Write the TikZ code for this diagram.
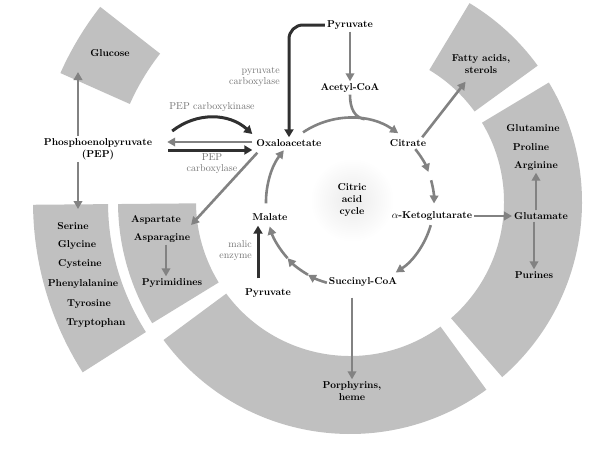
\documentclass[tikz,border=0pt]{standalone}
\usepackage{tikz}
\usetikzlibrary{arrows.meta}
\definecolor{CycBand}{RGB}{192,192,192}
\definecolor{CycArrow}{RGB}{130,130,130}
\definecolor{CycDark}{RGB}{48,48,48}
\definecolor{CycEnz}{RGB}{115,115,115}

\begin{document}
\begin{tikzpicture}[x=1pt,y=-1pt,
  met/.style={font=\fontsize{10}{12}\selectfont\bfseries,align=center,inner sep=2pt},
  enz/.style={font=\fontsize{10}{11}\selectfont,text=CycEnz,align=#1,inner sep=0pt},
  gar/.style={draw=CycArrow,line width=2.6pt,-{Triangle[length=8pt,width=8.5pt]}},
  dar/.style={draw=CycDark,line width=3pt,-{Triangle[length=8pt,width=9pt]}}]
\useasboundingbox (0,0) rectangle (591,448);
\coordinate (cc) at (350,202);
% gray bands round the cycle
\foreach \a/\b/\r/\R in %
{204/218/241/317,301/324/154/232,-31/49/154/232,54/143.5/154/232,148.5/179.5/154/232,147.5/179.5/242/317} {
   \fill[CycBand] ([shift={(\a:\r)}]cc) arc[start angle=\a,end angle=\b,radius=\r]
      -- ([shift={(\b:\R)}]cc) arc[start angle=\b,end angle=\a,radius=\R] -- cycle;
}
\shade[inner color=gray!16,outer color=white] (352,200) circle[radius=42];
\node[met] (tca) at (352,200) {Citric\\acid\\cycle};
\node[met] (pyr) at (350,25) {Pyruvate};
\node[met] (acoa) at (350,88) {Acetyl-CoA};
\node[met] (cit) at (408,143) {Citrate};
\node[met] (oaa) at (289,143) {Oxaloacetate};
\node[met] (pep) at (98,149) {Phosphoenolpyruvate\\(PEP)};
\node[met] (glc) at (110,53) {Glucose};
\node[met] (akg) at (432,216) {$\alpha$-Ketoglutarate};
\node[met] (suc) at (363,282) {Succinyl-CoA};
\node[met] (mal) at (270,217) {Malate};
\node[met] (pyr2) at (268,293) {Pyruvate};
\node[met] (fat) at (481,64) {Fatty acids,\\sterols};
\node[met] (gln) at (533,128) {Glutamine};
\node[met] (pro) at (531,147) {Proline};
\node[met] (arg) at (536,166) {Arginine};
\node[met] (glu) at (541,216) {Glutamate};
\node[met] (pur) at (534,275) {Purines};
\node[met] (por) at (352,391) {Porphyrins,\\heme};
\node[met] (asp) at (156,220) {Aspartate};
\node[met] (asn) at (162,238) {Asparagine};
\node[met] (pyd) at (172,283) {Pyrimidines};
\foreach \n/\t/\x/\y in %
{ser/Serine/73/226,gly/Glycine/77/245,cys/Cysteine/80/264,phe/Phenylalanine/83/284,tyr/Tyrosine/89/304,trp/Tryptophan/96/323} {
   \node[met] (\n) at (\x,\y) {\t};
}
\node[enz=right,anchor=east] (pcx) at (280,77) {pyruvate\\carboxylase};
\node[enz=center] (pck) at (212,107) {PEP carboxykinase};
\node[enz=center] (ppc) at (212,164) {PEP\\carboxylase};
\node[enz=right,anchor=east] (me) at (252,251) {malic\\enzyme};
\coordinate (glctip) at (78,72);
\coordinate (sertip) at (78,209);
% the cycle
\foreach \a/\b in %
{-124/-55,-39/-21,-15/1,16/57,106/120,120/138,138/163,179/218} {
   \draw[gar] ([shift={(\a:84)}]cc) arc[start angle=\a,end angle=\b,radius=84];
}
\coordinate (join) at ([shift={(-80:84)}]cc);
\draw[CycArrow,line width=2.6pt] (acoa.south) .. controls +(0,14) and +(-10,-2) .. (join);
\draw[gar] (pyr) -- (acoa);
\draw[dar,rounded corners=14] (pyr.west) -| (oaa.north);
\draw[dar] ([shift={(18,-18)}]pep.east) to[bend left=40] ([shift={(-2,-9)}]oaa.west);
\draw[gar] ([shift={(-2,-1)}]oaa.west) -- ([shift={(13,-7)}]pep.east);
\draw[dar] ([shift={(14,1)}]pep.east) -- ([shift={(-2,7)}]oaa.west);
\draw[gar] (pep.north -| glctip) -- (glctip);
\draw[gar] (pep.south -| sertip) -- (sertip);
\draw[gar] ([shift={(3,4)}]oaa.south west) -- ([shift={(8,5)}]asp.east);
\draw[gar] ([xshift=4]asn.south) -- ([xshift=-6]pyd.north);
\draw[dar,shorten <=8pt,shorten >=3pt] ([xshift=-10]pyr2.north) -- ([xshift=-12]mal.south);
\draw[gar] ([xshift=-6]cit.north east) -- ([shift={(16,6)}]fat.south west);
\draw[gar] (akg) -- (glu);
\draw[gar] (glu.north -| arg.south) -- (arg.south);
\draw[gar] (glu.south -| pur.north) -- (pur.north);
\draw[gar,shorten <=9pt] (suc.south -| por.north) -- (por.north);
\end{tikzpicture}
\end{document}
